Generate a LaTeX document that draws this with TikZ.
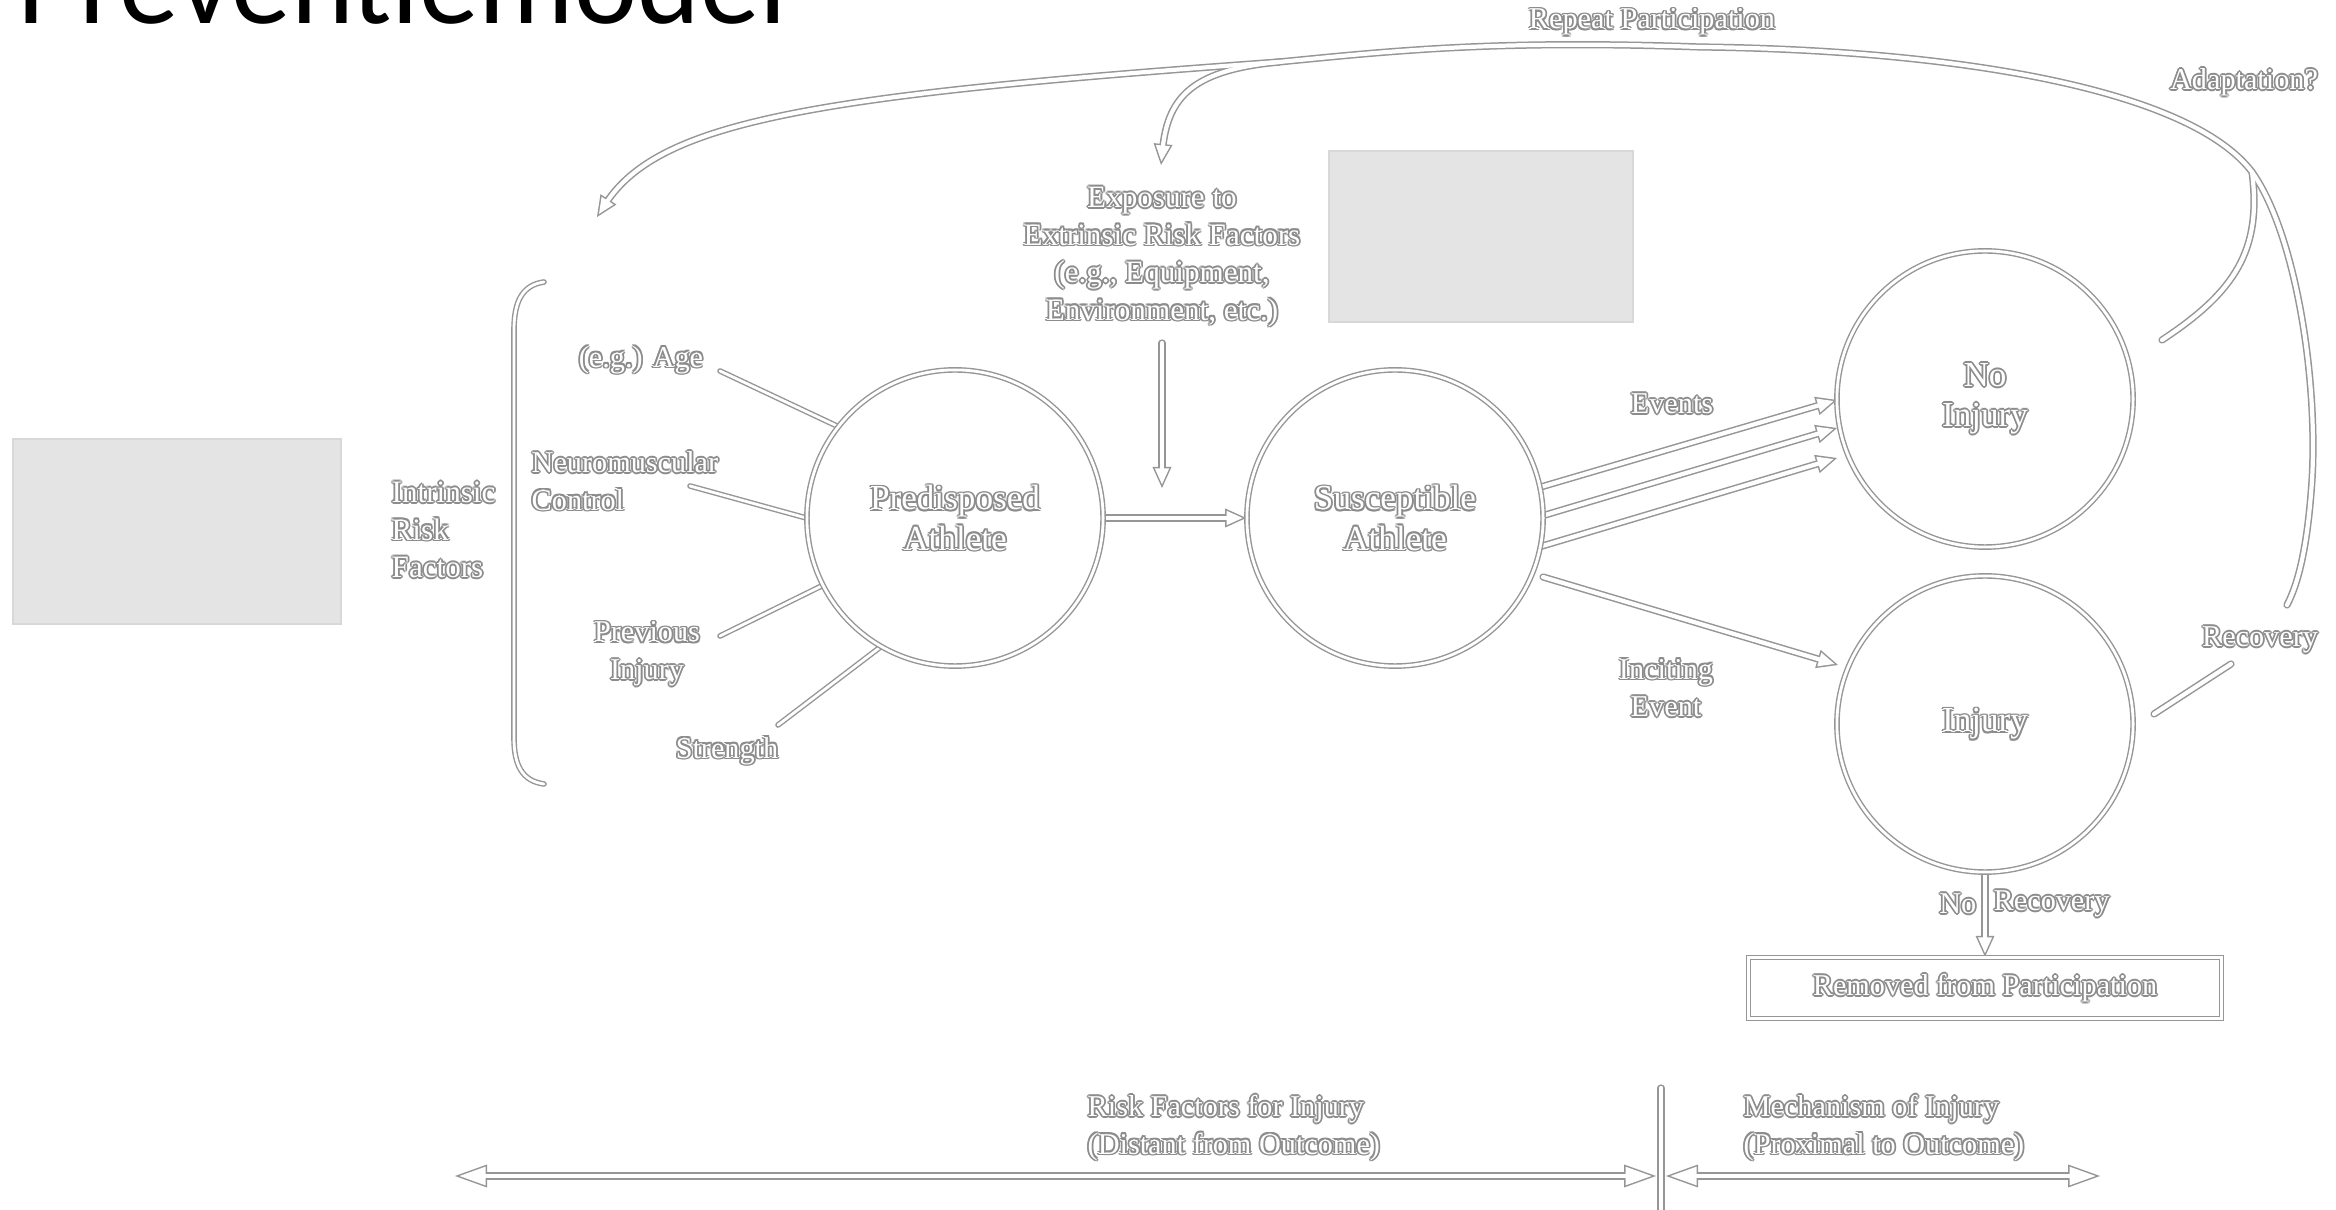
\documentclass[tikz,border=0pt]{standalone}
\usepackage{fontspec}
\setmainfont{Liberation Serif}
\newfontfamily\titlefont{Carlito}
\usetikzlibrary{calc}
\definecolor{gc}{RGB}{150,150,150}
\definecolor{tc}{RGB}{140,140,140}
\definecolor{phc}{RGB}{228,228,228}
\definecolor{phb}{RGB}{216,216,216}
\newlength\otw \setlength\otw{0.5pt}
\newcommand\gcp[3]{\rlap{\kern#1\raisebox{#2}{\textcolor{tc}{#3}}}}
\newcommand\ot[1]{\leavevmode\hbox{\gcp{\otw}{0pt}{#1}\gcp{-\otw}{0pt}{#1}\gcp{0pt}{\otw}{#1}\gcp{0pt}{-\otw}{#1}\gcp{0.7\otw}{0.7\otw}{#1}\gcp{-0.7\otw}{0.7\otw}{#1}\gcp{0.7\otw}{-0.7\otw}{#1}\gcp{-0.7\otw}{-0.7\otw}{#1}\textcolor{white}{#1}}}
\newcommand\labfont{\fontsize{8.6pt}{10.67pt}\selectfont}
\newcommand\biglabfont{\fontsize{8.85pt}{10.67pt}\selectfont}
\newcommand\circfont{\fontsize{10pt}{11.4pt}\selectfont}
\pgfdeclarelayer{back}\pgfdeclarelayer{bg}\pgfsetlayers{back,bg,main}
\tikzset{
  oshaft/.style={draw=gc, line width=0.072cm, line cap=round},
  ishaft/.style={draw=white, line width=0.042cm, line cap=round},
  thind/.style={draw=gc, line width=0.4pt, double=white, double distance=0.8pt},
  thinl/.style={thind, line cap=round},
  circ/.style={circle, thind, fill=white, minimum size=2.96cm, inner sep=0pt, align=center, font=\circfont},
  lab/.style={inner sep=0pt, font=\labfont},
}
% small arrow heads
\newcommand\hdO[2]{\fill[gc] (#1) -- ($(#1)!0.21cm!(#2)!0.095cm!90:(#1)$) -- ($(#1)!0.21cm!(#2)!0.095cm!-90:(#1)$) -- cycle;}
\newcommand\hdI[2]{\fill[white] ($(#1)!0.0365cm!(#2)$) -- ($(#1)!0.195cm!(#2)!0.0717cm!90:(#1)$) -- ($(#1)!0.195cm!(#2)!0.0717cm!-90:(#1)$) -- cycle;}
% big arrow heads
\newcommand\bhdO[2]{\fill[gc] (#1) -- ($(#1)!0.32cm!(#2)!0.115cm!90:(#1)$) -- ($(#1)!0.32cm!(#2)!0.115cm!-90:(#1)$) -- cycle;}
\newcommand\bhdI[2]{\fill[white] ($(#1)!0.0443cm!(#2)$) -- ($(#1)!0.305cm!(#2)!0.0937cm!90:(#1)$) -- ($(#1)!0.305cm!(#2)!0.0937cm!-90:(#1)$) -- cycle;}
\newcommand\sarr[2]{%
  \draw[oshaft] (#1) -- ($(#2)!0.16cm!(#1)$); \hdO{#2}{#1}
  \draw[ishaft] (#1) -- ($(#2)!0.16cm!(#1)$); \hdI{#2}{#1}}
\newcommand\axarr[2]{%
  \draw[oshaft] ($(#1)!0.24cm!(#2)$) -- ($(#2)!0.24cm!(#1)$); \bhdO{#1}{#2}\bhdO{#2}{#1}
  \draw[ishaft] ($(#1)!0.24cm!(#2)$) -- ($(#2)!0.24cm!(#1)$); \bhdI{#1}{#2}\bhdI{#2}{#1}}
\newcommand\topgroup[1]{%
  \draw[#1] (R0) .. controls (2300,580) and (2308,540) .. (P1) .. controls (2318,380) and (2296,234) .. (J) .. controls (2190,90) and (1960,50) .. (P2) .. controls (1500,40) and (1400,50) .. (B);
  \draw[#1] (AD) .. controls (2235,292) and (2262,250) .. (J);
  \draw[#1, shorten >=0.16cm] (B) .. controls (820,95) and (cL) .. (TL);
  \draw[#1, shorten >=0.16cm] (B) .. controls (1195,70) and (cM) .. (TM);}
\begin{document}
\begin{tikzpicture}[x=0.01cm, y=-0.01cm]
\useasboundingbox (0,0) rectangle (2336,1210);
\clip (0,0) rectangle (2336,1210);
\begin{pgfonlayer}{back}
  \fill[white] (0,0) rectangle (2336,1210);
  \filldraw[fill=phc, draw=phb, line width=0.3pt] (13,439) rectangle (341,624);
  \filldraw[fill=phc, draw=phb, line width=0.3pt] (1329,151) rectangle (1633,322);
\end{pgfonlayer}

% title
\node[anchor=base west, inner sep=0pt, font=\titlefont\fontsize{34pt}{40pt}\selectfont] (title) at (17,24) {Preventiemodel};

% circles
\node[circ] (pred) at (955,518) {\ot{Predisposed}\\\ot{Athlete}};
\node[circ] (susc) at (1395,518) {\ot{Susceptible}\\\ot{Athlete}};
\node[circ] (noinj) at (1985,399) {\ot{No}\\\ot{Injury}};
\node[circ] (inj) at (1985,724) {\ot{Injury}};
\node[thind, fill=white, minimum width=4.73cm, minimum height=0.61cm, inner sep=0pt, font=\labfont] (removed) at (1985,988) {\ot{Removed from Participation}};

% labels
\node[lab] (rp) at (1652,22) {\ot{Repeat Participation}};
\node[lab] (adapt) at (2244,82) {\ot{Adaptation?}};
\node[lab, align=center, font=\biglabfont] (expo) at (1162,257) {\ot{Exposure to}\\\ot{Extrinsic Risk Factors}\\\ot{(e.g., Equipment,}\\\ot{Environment, etc.)}};
\node[lab] (age) at (641,360) {\ot{(e.g.) Age}};
\node[lab, align=left, anchor=west] (neuro) at (531,481) {\ot{Neuromuscular}\\\ot{Control}};
\node[lab, align=left, anchor=west, font=\biglabfont] (intr) at (391,530) {\ot{Intrinsic}\\\ot{Risk}\\\ot{Factors}};
\node[lab, align=center] (prev) at (647,654) {\ot{Previous}\\\ot{Injury}};
\node[lab] (str) at (727,751) {\ot{Strength}};
\node[lab] (events) at (1672,404) {\ot{Events}};
\node[lab, align=center] (incit) at (1666,688) {\ot{Inciting}\\\ot{Event}};
\node[lab] (recov) at (2260,640) {\ot{Recovery}};
\node[lab, anchor=east] (no) at (1977,904) {\ot{No}};
\node[lab, anchor=west] (norec) at (1993,904) {\ot{Recovery}};
\node[lab, align=left, anchor=west] (riskf) at (1087,1128) {\ot{Risk Factors for Injury}\\\ot{(Distant from Outcome)}};
\node[lab, align=left, anchor=west] (mech) at (1743,1128) {\ot{Mechanism of Injury}\\\ot{(Proximal to Outcome)}};

% coordinates
\coordinate (a1) at (720,371);
\coordinate (n1) at (690,486);
\coordinate (p1) at (720,636);
\coordinate (s1) at (778,725);
\coordinate (x0) at (1162,343);
\coordinate (x1) at (1162,488);
\coordinate (e1) at (1837,400);
\coordinate (e2) at (1837,428);
\coordinate (e3) at (1837,458);
\coordinate (i0) at (1543,577);
\coordinate (i1) at (1838,665);
\coordinate (rs1) at (2154,714);
\coordinate (rs2) at (2231,664);
\coordinate (R0) at (2287,605);
\coordinate (P1) at (2312,480);
\coordinate (J) at (2252,172);
\coordinate (P2) at (1700,47);
\coordinate (B) at (1279,62);
\coordinate (TL) at (597,217);
\coordinate (TM) at (1161,165);
\coordinate (cL) at (660,120);
\coordinate (cM) at (1168,95);
\coordinate (AD) at (2162,340);
\coordinate (va) at (1661,1088);
\coordinate (vb) at (1661,1225);
\coordinate (L1) at (455,1176);
\coordinate (R1) at (1656,1176);
\coordinate (L2) at (1666,1176);
\coordinate (R2) at (2100,1176);
\coordinate (bt) at (544,282);
\coordinate (bb) at (544,784);

\begin{pgfonlayer}{bg}
  % bracket
  \draw[thinl] (bt) .. controls (522,285) and (514,302) .. (514,330) -- (514,738) .. controls (514,765) and (522,781) .. (bb);
  % factor lines
  \draw[thinl] (a1) -- (pred.142);
  \draw[thinl] (n1) -- (pred.180);
  \draw[thinl] (p1) -- (pred.207);
  \draw[thinl] (s1) -- (pred.240);
  % main arrows
  \sarr{pred.east}{susc.west}
  \sarr{x0}{x1}
  \sarr{susc.12}{e1}
  \sarr{susc.1}{e2}
  \sarr{susc.-11}{e3}
  \sarr{i0}{i1}
  \sarr{inj.south}{removed.north}
  % recovery stub
  \draw[oshaft] (rs1) -- (rs2);
  \draw[ishaft] (rs1) -- (rs2);
  % top loop
  \topgroup{oshaft}
  \hdO{TL}{cL}\hdO{TM}{cM}
  \topgroup{ishaft}
  \hdI{TL}{cL}\hdI{TM}{cM}
  % axis
  \draw[oshaft] (va) -- (vb);
  \draw[ishaft] (va) -- (vb);
  \axarr{L1}{R1}
  \axarr{L2}{R2}
\end{pgfonlayer}
\end{tikzpicture}
\end{document}
